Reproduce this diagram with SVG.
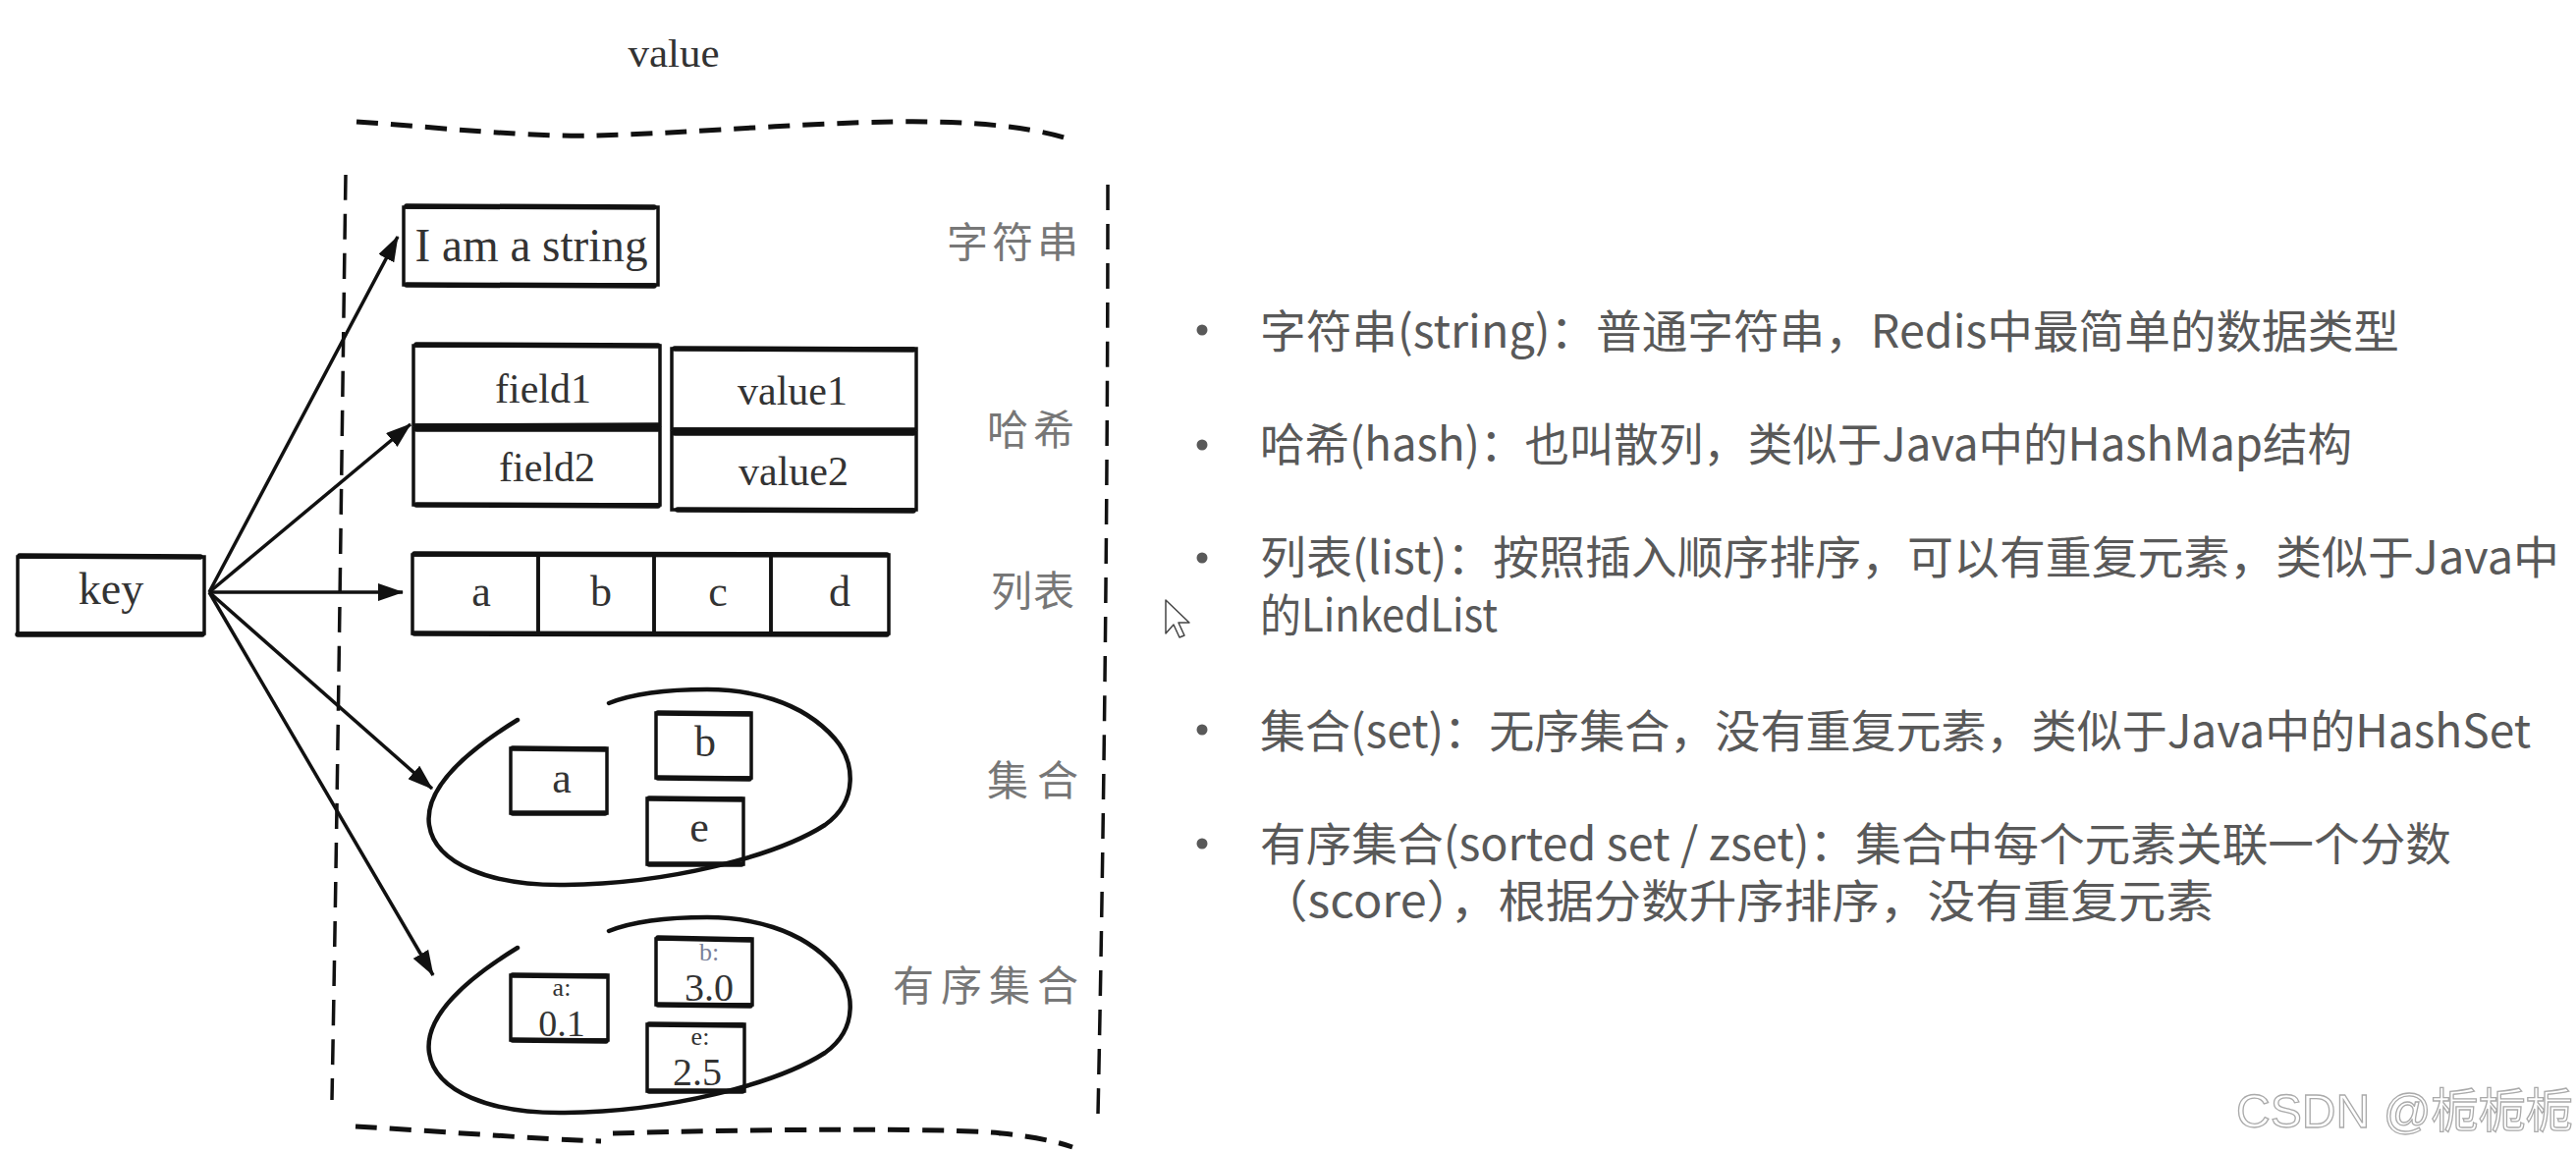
<svg xmlns="http://www.w3.org/2000/svg" width="2623" height="1173" viewBox="0 0 2623 1173">
<style>
.bx{fill:none;stroke:#111;stroke-width:3.5}
.hl{stroke:#111;stroke-width:5.5;stroke-linecap:round}
.ser{font-family:"Liberation Serif","Times New Roman",serif;fill:#333;text-anchor:middle}
.dh{fill:none;stroke:#111;stroke-width:5;stroke-dasharray:22 13}
.dv{fill:none;stroke:#111;stroke-width:3.5;stroke-dasharray:26 14}
.blob{fill:none;stroke:#111;stroke-width:4.5;stroke-linecap:round}
.lab{font-family:"Noto Sans CJK SC","Noto Sans CJK JP",sans-serif;font-size:42px;fill:#777}
.note{font-family:"Noto Sans CJK SC","Noto Sans CJK JP",sans-serif;font-size:46px;fill:#595959}
.arr{stroke:#111;stroke-width:3.5;fill:none;marker-end:url(#ah)}
</style>
<defs>
<marker id="ah" viewBox="0 0 26 18" refX="25" refY="9" markerWidth="26" markerHeight="18" markerUnits="userSpaceOnUse" orient="auto">
<path d="M0,0 L26,9 L0,18 z" fill="#111"/>
</marker>
</defs>
<rect width="2623" height="1173" fill="#fff"/>

<g id="value-frame">
<text class="ser" x="686" y="68" font-size="40" textLength="93" lengthAdjust="spacingAndGlyphs">value</text>
<path class="dh" d="M363,124 C450,130 540,140 608,138 C700,136 850,122 950,124 C1010,125 1060,132 1090,142"/>
<path class="dv" d="M352,178 C348,450 344,800 338,1120"/>
<path class="dv" d="M1128,188 C1128,500 1124,850 1118,1135"/>
<path class="dh" d="M362,1147 C450,1152 550,1160 612,1162 M624,1154 C760,1150 960,1148 1020,1154 C1050,1157 1075,1162 1092,1168"/>
</g>

<g id="labels">
<text class="lab" x="964" y="262" textLength="134" lengthAdjust="spacing">字符串</text>
<text class="lab" x="1005" y="453" textLength="89" lengthAdjust="spacing">哈希</text>
<text class="lab" x="1009" y="617" textLength="85" lengthAdjust="spacing">列表</text>
<text class="lab" x="1005" y="810" textLength="93" lengthAdjust="spacing">集合</text>
<text class="lab" x="909" y="1019" textLength="189" lengthAdjust="spacing">有序集合</text>
</g>

<g id="key">
<rect class="bx" x="18" y="567" width="190" height="78"/>
<line class="hl" x1="20" y1="566" x2="204" y2="567"/>
<line class="hl" x1="18" y1="646" x2="206" y2="646"/>
<text class="ser" x="113" y="615" font-size="46">key</text>
</g>

<g id="string">
<rect class="bx" x="411" y="211" width="259" height="79"/>
<line class="hl" x1="414" y1="210" x2="666" y2="211"/>
<line class="hl" x1="414" y1="290" x2="666" y2="291"/>
<text class="ser" x="541" y="266" font-size="48" textLength="237" lengthAdjust="spacingAndGlyphs">I am a string</text>
</g>

<g id="hash">
<rect class="bx" x="421" y="352" width="251" height="81"/>
<rect class="bx" x="421" y="436" width="251" height="78"/>
<rect class="bx" x="684" y="355" width="249" height="82"/>
<rect class="bx" x="684" y="440" width="249" height="79"/>
<line class="hl" x1="424" y1="351" x2="670" y2="352"/>
<line class="hl" x1="424" y1="434" x2="670" y2="433"/>
<line class="hl" x1="424" y1="437" x2="670" y2="437"/>
<line class="hl" x1="424" y1="514" x2="670" y2="515"/>
<line class="hl" x1="687" y1="355" x2="930" y2="356"/>
<line class="hl" x1="687" y1="438" x2="930" y2="439"/>
<line class="hl" x1="687" y1="441" x2="930" y2="441"/>
<line class="hl" x1="690" y1="519" x2="930" y2="520"/>
<text class="ser" x="553" y="410" font-size="42">field1</text>
<text class="ser" x="807" y="412" font-size="42">value1</text>
<text class="ser" x="557" y="490" font-size="42">field2</text>
<text class="ser" x="808" y="494" font-size="42">value2</text>
</g>

<g id="list">
<rect class="bx" x="420" y="565" width="128" height="80"/>
<rect class="bx" x="548" y="565" width="118" height="80"/>
<rect class="bx" x="666" y="565" width="119" height="80"/>
<rect class="bx" x="785" y="565" width="120" height="80"/>
<line class="hl" x1="422" y1="564" x2="903" y2="565"/>
<line class="hl" x1="422" y1="645" x2="903" y2="646"/>
<text class="ser" x="490" y="617" font-size="44">a</text>
<text class="ser" x="612" y="617" font-size="44">b</text>
<text class="ser" x="731" y="617" font-size="44">c</text>
<text class="ser" x="855" y="617" font-size="44">d</text>
</g>

<g id="set">
<path class="blob" d="M527,733 C470,768 432,805 437,840 C443,880 500,902 575,901 C680,900 790,872 840,840 C875,815 870,775 850,752 C815,712 760,702 720,702 C680,702 645,706 620,716"/>
<rect class="bx" x="520" y="762" width="98" height="66"/>
<rect class="bx" x="668" y="726" width="97" height="66"/>
<rect class="bx" x="659" y="813" width="98" height="67"/>
<line class="hl" x1="522" y1="762" x2="616" y2="763"/>
<line class="hl" x1="522" y1="828" x2="616" y2="828"/>
<line class="hl" x1="670" y1="726" x2="763" y2="727"/>
<line class="hl" x1="670" y1="792" x2="763" y2="793"/>
<line class="hl" x1="661" y1="813" x2="755" y2="814"/>
<line class="hl" x1="661" y1="880" x2="755" y2="880"/>
<text class="ser" x="572" y="807" font-size="44">a</text>
<text class="ser" x="718" y="770" font-size="44">b</text>
<text class="ser" x="712" y="857" font-size="44">e</text>
</g>

<g id="zset">
<path class="blob" transform="translate(0,232)" d="M527,733 C470,768 432,805 437,840 C443,880 500,902 575,901 C680,900 790,872 840,840 C875,815 870,775 850,752 C815,712 760,702 720,702 C680,702 645,706 620,716"/>
<rect class="bx" x="520" y="993" width="99" height="66"/>
<rect class="bx" x="668" y="956" width="98" height="67"/>
<rect class="bx" x="659" y="1043" width="99" height="68"/>
<line class="hl" x1="522" y1="993" x2="617" y2="994"/>
<line class="hl" x1="522" y1="1059" x2="617" y2="1060"/>
<line class="hl" x1="670" y1="955" x2="764" y2="957"/>
<line class="hl" x1="670" y1="1023" x2="764" y2="1024"/>
<line class="hl" x1="661" y1="1043" x2="756" y2="1044"/>
<line class="hl" x1="661" y1="1111" x2="756" y2="1111"/>
<text class="ser" x="572" y="1014" font-size="26">a:</text>
<text class="ser" x="572" y="1055" font-size="38">0.1</text>
<text class="ser" x="722" y="978" font-size="26" style="fill:#7a7f99">b:</text>
<text class="ser" x="722" y="1019" font-size="40">3.0</text>
<text class="ser" x="713" y="1064" font-size="26">e:</text>
<text class="ser" x="710" y="1105" font-size="40">2.5</text>
</g>

<g id="connectors">
<line class="arr" x1="213" y1="603" x2="405" y2="241"/>
<line class="arr" x1="213" y1="603" x2="418" y2="432"/>
<line class="arr" x1="213" y1="603" x2="410" y2="603"/>
<line class="arr" x1="213" y1="603" x2="440" y2="803"/>
<line class="arr" x1="213" y1="603" x2="441" y2="993"/>
</g>

<g id="notes">
<circle cx="1224" cy="336" r="5.5" fill="#595959"/>
<circle cx="1224" cy="453" r="5.5" fill="#595959"/>
<circle cx="1224" cy="568" r="5.5" fill="#595959"/>
<circle cx="1224" cy="743" r="5.5" fill="#595959"/>
<circle cx="1224" cy="859" r="5.5" fill="#595959"/>
<text class="note" x="1283" y="354" textLength="1160" lengthAdjust="spacingAndGlyphs">字符串(string)：普通字符串，Redis中最简单的数据类型</text>
<text class="note" x="1283" y="469" textLength="1112" lengthAdjust="spacingAndGlyphs">哈希(hash)：也叫散列，类似于Java中的HashMap结构</text>
<text class="note" x="1283" y="584" textLength="1323" lengthAdjust="spacingAndGlyphs">列表(list)：按照插入顺序排序，可以有重复元素，类似于Java中</text>
<text class="note" x="1283" y="643" textLength="242" lengthAdjust="spacingAndGlyphs">的LinkedList</text>
<text class="note" x="1283" y="761" textLength="1294" lengthAdjust="spacingAndGlyphs">集合(set)：无序集合，没有重复元素，类似于Java中的HashSet</text>
<text class="note" x="1283" y="876" textLength="1213" lengthAdjust="spacingAndGlyphs">有序集合(sorted set / zset)：集合中每个元素关联一个分数</text>
<text class="note" x="1283" y="934" textLength="971" lengthAdjust="spacingAndGlyphs">（score），根据分数升序排序，没有重复元素</text>
</g>

<g id="cursor">
<path d="M1187,611 L1187,645 L1195,636 L1201,649 L1206,647 L1200,634 L1211,634 Z" fill="#fff" stroke="#444" stroke-width="1.5" stroke-linejoin="round"/>
</g>

<g id="watermark">
<text x="2277" y="1148" font-family="'Liberation Sans','Noto Sans CJK SC',sans-serif" font-size="48" fill="#fff" stroke="#aaa" stroke-width="1.3" textLength="343" lengthAdjust="spacingAndGlyphs">CSDN @栀栀栀</text>
</g>
</svg>
